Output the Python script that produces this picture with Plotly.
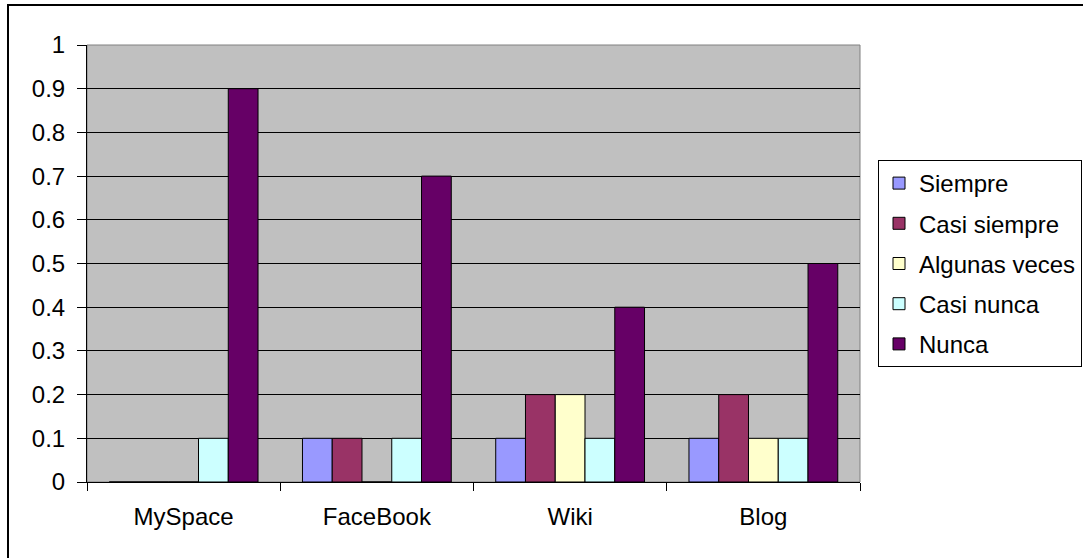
import plotly.graph_objects as go

categories = ["MySpace", "FaceBook", "Wiki", "Blog"]
series_names = ["Siempre", "Casi siempre", "Algunas veces", "Casi nunca", "Nunca"]
siempre = [0, 0.1, 0.1, 0.1]
casi_siempre = [0, 0.1, 0.2, 0.2]
algunas_veces = [0, 0, 0.2, 0.1]
casi_nunca = [0.1, 0.1, 0.1, 0.1]
nunca = [0.9, 0.7, 0.4, 0.5]
colors = ["#9999FF", "#993366", "#FFFFCC", "#CCFFFF", "#660066"]
y_ticks = [0, 0.1, 0.2, 0.3, 0.4, 0.5, 0.6, 0.7, 0.8, 0.9, 1]

series_values = [siempre, casi_siempre, algunas_veces, casi_nunca, nunca]

W, H = 1083, 558
L, R, T, B = 87, 860, 45, 482

fig = go.Figure()
for i, (name, vals, col) in enumerate(zip(series_names, series_values, colors)):
    fig.add_trace(go.Bar(
        x=categories, y=vals, name=name,
        marker=dict(color=col, line=dict(color="black", width=1)),
        legendgroup=f"g{i}",
    ))

font = dict(family="Liberation Sans, Arial, sans-serif", size=24, color="black")

def px_x(x):
    return (x - L) / (R - L)

def px_y(y):
    return (B - y) / (B - T)

fig.update_layout(
    width=W, height=H, autosize=False,
    margin=dict(l=L, r=W - R, t=T, b=H - B, pad=0, autoexpand=False),
    paper_bgcolor="white",
    plot_bgcolor="#C0C0C0",
    barmode="group",
    bargap=0.23,
    bargroupgap=0,
    font=font,
    showlegend=True,
    legend=dict(
        x=px_x(878), y=px_y(160), xanchor="left", yanchor="top",
        bgcolor="white", bordercolor="black", borderwidth=1,
        font=font, traceorder="grouped", tracegroupgap=6,
        itemclick=False,
    ),
    xaxis=dict(
        showline=True, linecolor="black", linewidth=1,
        ticks="outside", tickson="boundaries", ticklen=8, tickcolor="black",
        showgrid=False, ticklabelstandoff=13,
        tickfont=font,
    ),
    yaxis=dict(
        range=[0, 1], tickvals=y_ticks, ticktext=[f"{v:g}" for v in y_ticks],
        showline=True, linecolor="black", linewidth=1,
        ticks="outside", ticklen=9, tickcolor="black",
        showgrid=True, gridcolor="black", gridwidth=1,
        zeroline=False, ticklabelstandoff=7,
        tickfont=font,
    ),
    shapes=[
        dict(type="rect", xref="paper", yref="paper", x0=0, x1=1, y0=0, y1=1,
             line=dict(color="#808080", width=1), layer="below"),
        dict(type="rect", xref="paper", yref="paper",
             x0=px_x(8), x1=px_x(1095), y0=px_y(575), y1=px_y(5),
             line=dict(color="black", width=2), fillcolor="rgba(0,0,0,0)", layer="above"),
    ],
)

fig.write_html(
    "out.html",
    config={"displayModeBar": False, "responsive": False},
    post_script="document.body.style.margin='0';document.body.style.overflow='hidden';",
)
